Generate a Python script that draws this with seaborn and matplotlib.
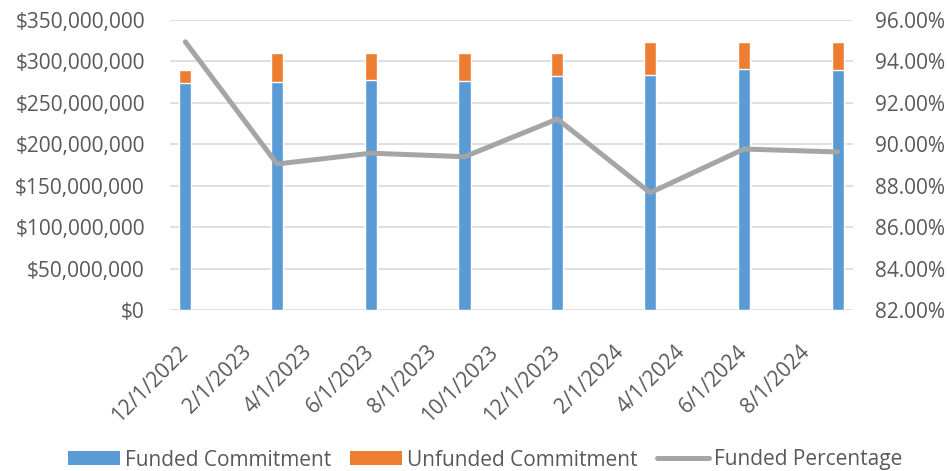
import numpy as np
import pandas as pd
import matplotlib
matplotlib.use("Agg")
import matplotlib.pyplot as plt
import matplotlib.dates as mdates
from matplotlib.patches import Patch
from matplotlib.lines import Line2D
from matplotlib.ticker import FuncFormatter, MultipleLocator
import seaborn as sns

# ---- data ----
dates = ["2022-12-01", "2023-03-01", "2023-06-01", "2023-09-01",
         "2023-12-01", "2024-03-01", "2024-06-01", "2024-09-01"]
funded = [274.3e6, 275.6e6, 277.2e6, 276.4e6, 282.0e6, 284.0e6, 290.9e6, 290.0e6]
unfunded = [15.0e6, 34.2e6, 32.6e6, 33.4e6, 27.8e6, 39.9e6, 33.1e6, 34.0e6]
funded_pct = [94.95, 89.05, 89.57, 89.40, 91.22, 87.66, 89.77, 89.63]
series_names = ["Funded Commitment", "Unfunded Commitment", "Funded Percentage"]

sns.set_theme(style="white")
plt.rcParams["font.family"] = ["Open Sans", "DejaVu Sans"]
TXT = "#595959"
BLUE = "#5b9bd5"
ORANGE = "#ed7d31"
GRAY = "#a5a5a5"
GRID = "#d9d9d9"
FS = 15

dt = pd.to_datetime(dates)
xnum = mdates.date2num(dt)
total = np.array(funded) + np.array(unfunded)
df = pd.DataFrame({"x": xnum, "funded": funded, "total": total, "pct": funded_pct})

fig = plt.figure(figsize=(9.48, 4.71), dpi=100)
ax = fig.add_axes([170 / 948, 1 - 310 / 471, (853 - 170) / 948, (310 - 20) / 471])

bw = 12.0  # days
ax.bar(df["x"], df["total"], width=bw, color=ORANGE, zorder=2)
ax.bar(df["x"], df["funded"], width=bw, color=BLUE, zorder=3)

ax.set_ylim(0, 350e6)
ax.yaxis.set_major_locator(MultipleLocator(50e6))
ax.yaxis.set_major_formatter(FuncFormatter(lambda v, p: "${:,.0f}".format(v)))
ax.grid(axis="y", color=GRID, linewidth=1.2, zorder=0)
ax.set_axisbelow(True)

x0 = mdates.date2num(pd.Timestamp("2022-11-16"))
x1 = mdates.date2num(pd.Timestamp("2024-09-16"))
ax.set_xlim(x0, x1)
ax.xaxis.set_major_locator(mdates.MonthLocator(bymonth=[2, 4, 6, 8, 10, 12]))
ax.xaxis.set_major_formatter(mdates.DateFormatter("%-m/%-d/%Y"))

for s in ax.spines.values():
    s.set_visible(False)
ax.tick_params(axis="y", length=0, pad=18, labelsize=FS, labelcolor=TXT)
ax.tick_params(axis="x", length=0, pad=28, labelsize=FS, labelcolor=TXT)
for lab in ax.get_xticklabels():
    lab.set_rotation(45)
    lab.set_ha("right")
    lab.set_va("center")
    lab.set_rotation_mode("anchor")

ax2 = ax.twinx()
sns.lineplot(data=df, x="x", y="pct", ax=ax2, color=GRAY, linewidth=3.6,
             solid_capstyle="round", solid_joinstyle="round", zorder=4)
ax2.set_ylim(82, 96)
ax2.yaxis.set_major_locator(MultipleLocator(2))
ax2.yaxis.set_major_formatter(FuncFormatter(lambda v, p: "{:.2f}%".format(v)))
ax2.set_xlim(x0, x1)
ax2.set_ylabel("")
ax2.set_xlabel("")
ax.set_xlabel("")
ax.set_ylabel("")
for s in ax2.spines.values():
    s.set_visible(False)
ax2.tick_params(axis="y", length=0, pad=16, labelsize=FS, labelcolor=TXT)
ax2.grid(False)

handles = [Patch(facecolor=BLUE, edgecolor="none"),
           Patch(facecolor=ORANGE, edgecolor="none"),
           Line2D([0], [0], color=GRAY, linewidth=3.6, solid_capstyle="round")]
leg = fig.legend(handles, series_names, loc="center", bbox_to_anchor=(485 / 948, 1 - 460 / 471),
                 ncol=3, frameon=False, fontsize=FS, handlelength=2.5, handleheight=0.67,
                 handletextpad=0.25, columnspacing=0.9, borderaxespad=0, borderpad=0)
for t in leg.get_texts():
    t.set_color(TXT)

fig.savefig("out.png", dpi=100)
